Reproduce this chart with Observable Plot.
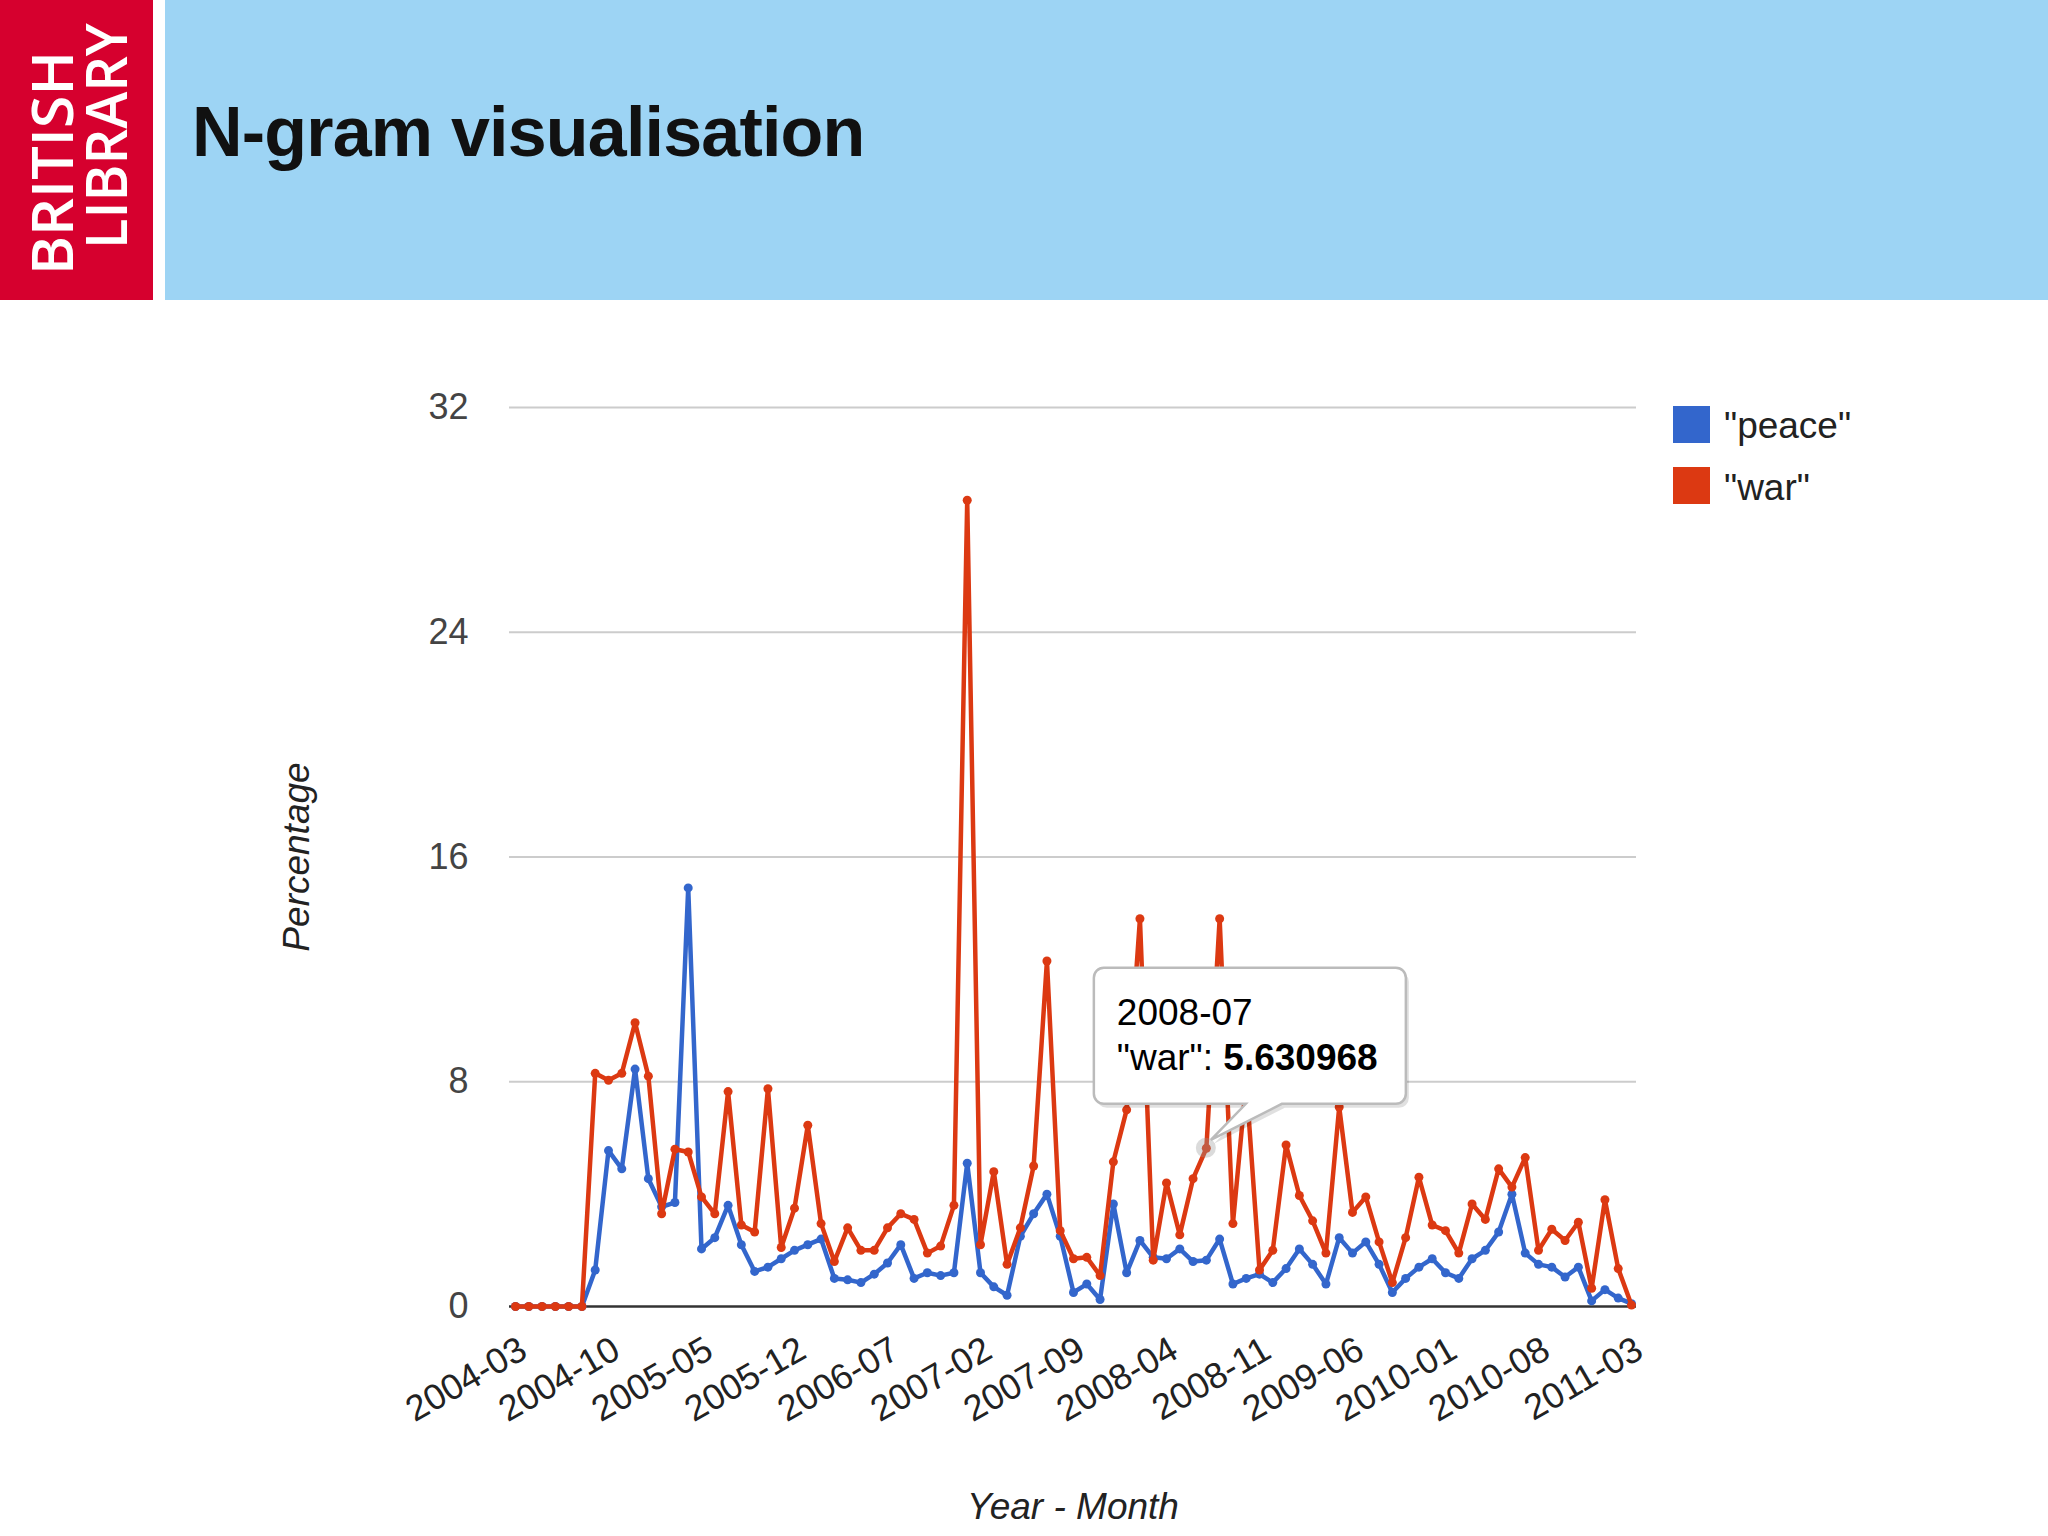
<!DOCTYPE html>
<html>
<head>
<meta charset="utf-8">
<script src="https://cdn.jsdelivr.net/npm/d3@7"></script>
<script src="https://cdn.jsdelivr.net/npm/@observablehq/plot@0.6"></script>
<style>
  html, body { margin: 0; padding: 0; background: #fff; }
  #page { position: relative; width: 2048px; height: 1536px; overflow: hidden; background: #fff;
          font-family: "Liberation Sans", Arial, sans-serif; }
  #logo { position: absolute; left: 0; top: 0; width: 153px; height: 300px; }
  #band { position: absolute; left: 165px; top: 0; width: 1883px; height: 300px; background: #9DD4F4; }
  #title { position: absolute; left: 192px; top: 97px; font-size: 70px; font-weight: bold; color: #111;
           line-height: 1; letter-spacing: -0.8px; }
  #chart { position: absolute; left: 0; top: 300px; }
  .leg { position: absolute; font-size: 37px; color: #222; line-height: 1; }
  .sw { position: absolute; width: 37px; height: 37px; }
</style>
</head>
<body>
<div id="page">
  <svg id="logo" width="153" height="300" viewBox="0 0 153 300">
    <rect x="0" y="0" width="153" height="300" fill="#D6002E"></rect>
    <text transform="translate(73,275) rotate(-90)" fill="#fff" font-family="Open Sans, Liberation Sans, sans-serif"
          font-weight="600" font-size="58" textLength="224" lengthAdjust="spacingAndGlyphs">BRITISH</text>
    <text transform="translate(127,249) rotate(-90)" fill="#fff" font-family="Open Sans, Liberation Sans, sans-serif"
          font-weight="600" font-size="58" textLength="226" lengthAdjust="spacingAndGlyphs">LIBRARY</text>
  </svg>
  <div id="band"></div>
  <div id="title">N-gram visualisation</div>
  <div id="chart"></div>
  <div class="sw" style="left:1673px;top:406px;background:#3366CC"></div>
  <div class="leg" style="left:1724px;top:407px">"peace"</div>
  <div class="sw" style="left:1673px;top:467px;background:#DC3912"></div>
  <div class="leg" style="left:1724px;top:469px">"war"</div>
</div>
<script>
// Categories: monthly, 2004-03 .. 2011-03
const months = [];
for (let y = 2004; y <= 2011; y++) {
  for (let m = 1; m <= 12; m++) {
    if ((y === 2004 && m < 3) || (y === 2011 && m > 3)) continue;
    months.push(`${y}-${String(m).padStart(2, "0")}`);
  }
}
const tickLabels = ["2004-03","2004-10","2005-05","2005-12","2006-07","2007-02","2007-09",
                    "2008-04","2008-11","2009-06","2010-01","2010-08","2011-03"];
const yTicks = [0, 8, 16, 24, 32];

const peace = [
  0, 0, 0, 0, 0, 0, 1.3, 5.55, 4.9, 8.45,
  4.55, 3.55, 3.7, 14.9, 2.05, 2.45, 3.6, 2.2, 1.25, 1.4,
  1.7, 2.0, 2.2, 2.4, 1.0, 0.95, 0.85, 1.15, 1.55, 2.2,
  1.0, 1.2, 1.1, 1.2, 5.1, 1.2, 0.7, 0.4, 2.5, 3.3,
  4.0, 2.5, 0.5, 0.8, 0.25, 3.65, 1.2, 2.35, 1.75, 1.7,
  2.05, 1.6, 1.65, 2.4, 0.8, 1.0, 1.15, 0.85, 1.35, 2.05,
  1.5, 0.8, 2.45, 1.9, 2.3, 1.5, 0.5, 1.0, 1.4, 1.7,
  1.2, 1.0, 1.7, 2.0, 2.65, 4.0, 1.9, 1.5, 1.4, 1.05,
  1.4, 0.2, 0.6, 0.3, 0.1
];
const war = [
  0, 0, 0, 0, 0, 0, 8.3, 8.05, 8.3, 10.1,
  8.2, 3.3, 5.6, 5.5, 3.9, 3.3, 7.65, 2.9, 2.65, 7.75,
  2.1, 3.5, 6.45, 2.95, 1.6, 2.8, 2.0, 2.0, 2.8, 3.3,
  3.1, 1.9, 2.15, 3.6, 28.7, 2.2, 4.8, 1.5, 2.8, 5.0,
  12.3, 2.7, 1.7, 1.75, 1.1, 5.15, 7.0, 13.8, 1.65, 4.4,
  2.55, 4.55, 5.630968, 13.8, 2.95, 8.0, 1.3, 2.0, 5.75, 3.95,
  3.05, 1.9, 7.1, 3.35, 3.9, 2.3, 0.85, 2.45, 4.6, 2.9,
  2.7, 1.9, 3.65, 3.1, 4.9, 4.25, 5.3, 2.0, 2.75, 2.35,
  3.0, 0.65, 3.8, 1.35, 0.05
];
const seriesNames = ["peace", "war"];
const colors = ["#3366CC", "#DC3912"];
const tooltipMonth = "2008-07";
const tooltipValue = 5.630968;

const peaceData = months.map((m, i) => ({idx: i, month: m, value: peace[i]}));
const warData = months.map((m, i) => ({idx: i, month: m, value: war[i]}));
const monthIndex = m => months.indexOf(m);

const font = "Liberation Sans, Arial, sans-serif";

const plot = Plot.plot({
  width: 2048,
  height: 1236,
  marginLeft: 509,
  marginRight: 412,
  marginTop: 107,
  marginBottom: 230,
  style: {fontFamily: font, background: "transparent", overflow: "visible"},
  x: {type: "linear", domain: [0, months.length - 1], insetLeft: 6, insetRight: 5, axis: null},
  y: {domain: [0, 32], axis: null},
  marks: [
    Plot.ruleY(yTicks.filter(d => d > 0), {stroke: "#cccccc", strokeWidth: 2}),
    Plot.ruleY([0], {stroke: "#333", strokeWidth: 2.5}),
    Plot.text(yTicks, {y: d => d, frameAnchor: "left", dx: -41, textAnchor: "end",
                       fontSize: 36, fill: "#444", text: d => String(d)}),
    Plot.text(tickLabels, {x: d => monthIndex(d), text: d => d, frameAnchor: "bottom", dx: 8, dy: 40, rotate: -30,
                           textAnchor: "end", lineAnchor: "middle", fontSize: 36, fill: "#222"}),
    Plot.text(["Percentage"], {frameAnchor: "left", dx: -212, rotate: -90, fontSize: 37,
                               textAnchor: "middle", lineAnchor: "middle",
                               fontStyle: "italic", fill: "#222"}),
    Plot.text(["Year - Month"], {frameAnchor: "bottom", dy: 212, fontSize: 37,
                                 textAnchor: "middle", fontStyle: "italic", fill: "#222"}),
    Plot.line(peaceData, {x: "idx", y: "value", stroke: colors[0], strokeWidth: 4.5}),
    Plot.dot(peaceData, {x: "idx", y: "value", fill: colors[0], r: 4.5}),
    Plot.line(warData, {x: "idx", y: "value", stroke: colors[1], strokeWidth: 4.5}),
    Plot.dot(warData, {x: "idx", y: "value", fill: colors[1], r: 4.5})
  ]
});
document.getElementById("chart").appendChild(plot);

// Tooltip anchored to the hovered data point through the plot's scales
const px = plot.scale("x").apply(monthIndex(tooltipMonth));
const py = plot.scale("y").apply(tooltipValue);
const svg = d3.select(plot);
const g = svg.append("g").attr("transform", `translate(${px},${py})`).attr("text-anchor", "start");
const L = -112, R = 200, T = -180, B = -44, r = 10;
const path = `M${L + r},${T} H${R - r} A${r},${r} 0 0 1 ${R},${T + r} V${B - r} A${r},${r} 0 0 1 ${R - r},${B}
  H76 L5,-8 L40,${B} H${L + r} A${r},${r} 0 0 1 ${L},${B - r} V${T + r} A${r},${r} 0 0 1 ${L + r},${T} Z`;
g.append("circle").attr("r", 10).attr("fill", "#999").attr("fill-opacity", 0.35);
g.append("path").attr("d", path).attr("transform", "translate(3,4)").attr("fill", "#000").attr("fill-opacity", 0.12);
g.append("path").attr("d", path).attr("fill", "#fff").attr("stroke", "#bbb").attr("stroke-width", 2.5);
g.append("text").attr("x", -89).attr("y", -123).attr("font-size", 37).attr("font-family", font)
  .attr("text-anchor", "start").attr("fill", "#000").text(tooltipMonth);
const t2 = g.append("text").attr("x", -89).attr("y", -78).attr("font-size", 37).attr("font-family", font)
  .attr("text-anchor", "start").attr("fill", "#000");
t2.append("tspan").text(`"${seriesNames[1]}": `);
t2.append("tspan").attr("font-weight", "bold").text(String(tooltipValue));
</script>
</body>
</html>
